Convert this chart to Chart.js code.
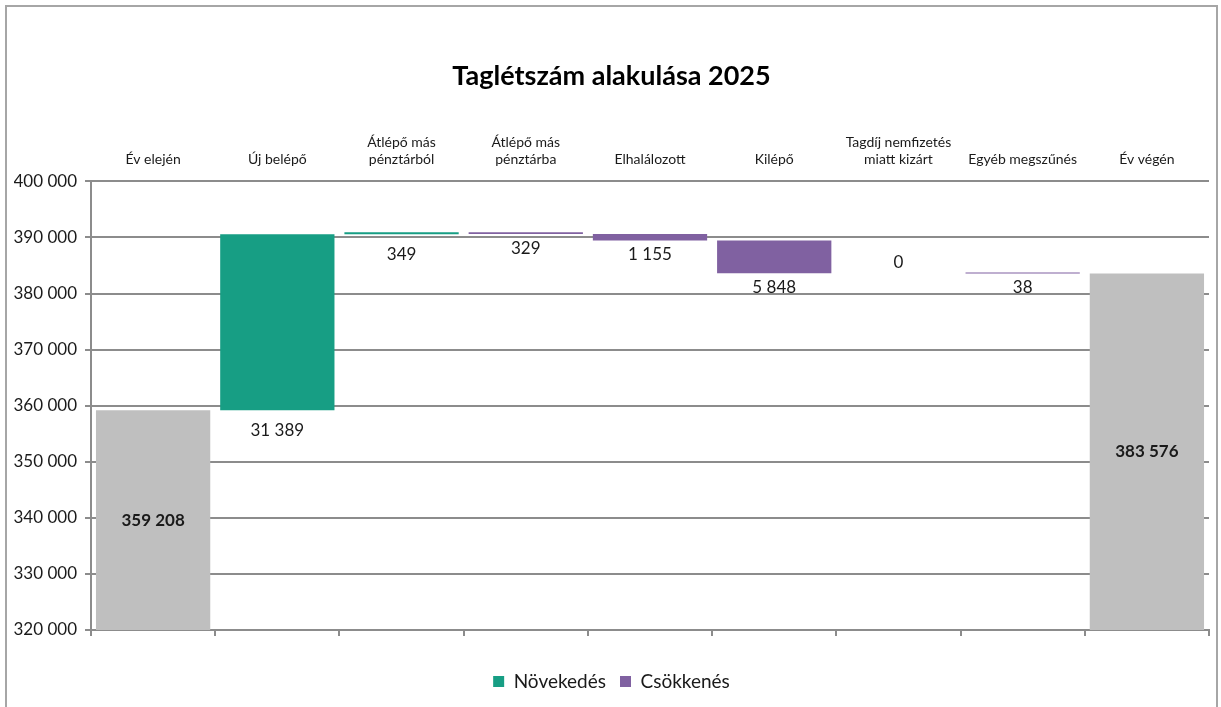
<!DOCTYPE html>
<html lang="hu">
<head>
<meta charset="utf-8">
<title>Taglétszám alakulása 2025</title>
<script src="https://cdn.jsdelivr.net/npm/chart.js@4.4.1/dist/chart.umd.min.js"></script>
<style>
  html, body { margin: 0; padding: 0; background: #fff; }
  #wrap { position: relative; width: 1221px; height: 707px; overflow: hidden; }
  #frame {
    position: absolute; left: 5px; top: 5px; width: 1213px; height: 720px;
    border: 2px solid #a6a6a6; box-sizing: border-box; pointer-events: none;
  }
  canvas { position: absolute; left: 0; top: 0; }
</style>
</head>
<body>
<div id="wrap">
  <canvas id="chart" width="1221" height="707"></canvas>
  <div id="frame"></div>
</div>
<script>
// ── Data ──
const categories = [
  ['Év elején'],
  ['Új belépő'],
  ['Átlépő más', 'pénztárból'],
  ['Átlépő más', 'pénztárba'],
  ['Elhalálozott'],
  ['Kilépő'],
  ['Tagdíj nemfizetés', 'miatt kizárt'],
  ['Egyéb megszűnés'],
  ['Év végén']
];
const startValue = 359208;
const changes = [31389, 349, -329, -1155, -5848, 0, -38]; // steps between start and end
const endValue = 383576;
const yTicks = { min: 320000, max: 400000, step: 10000 };

const COLORS = {
  total:    '#bfbfbf',
  increase: '#179e84',
  decrease: '#8061a1',
  grid:     '#8c8c8c',
  text:     '#1a1a1a'
};
const FONT = 'Lato, "Open Sans", sans-serif';

function fmtNum(n) {
  return String(Math.abs(Math.round(n))).replace(/\B(?=(\d{3})+(?!\d))/g, ' ');
}

// ── Build floating bars ──
const totals = categories.map(() => null);
const increases = categories.map(() => null);
const decreases = categories.map(() => null);
totals[0] = [yTicks.min, startValue];
totals[categories.length - 1] = [yTicks.min, endValue];

let level = startValue;
changes.forEach((d, i) => {
  const next = level + d;
  if (d > 0) increases[i + 1] = [level, next];
  else if (d < 0) decreases[i + 1] = [next, level];
  level = next;
});

// ── Value labels ──
const valueLabels = {
  id: 'valueLabels',
  afterDatasetsDraw(chart) {
    const { ctx, scales: { y } } = chart;
    ctx.save();
    ctx.fillStyle = COLORS.text;
    ctx.textAlign = 'center';

    // totals: bold, centred in the bar
    chart.getDatasetMeta(0).data.forEach((bar, i) => {
      if (!totals[i]) return;
      ctx.font = '700 17px ' + FONT;
      ctx.textBaseline = 'middle';
      ctx.fillText(fmtNum(totals[i][1]), bar.x, (bar.y + bar.base) / 2);
    });

    // changes: under the bar, zero step sits above its level
    let lvl = startValue;
    changes.forEach((d, i) => {
      const next = lvl + d;
      const x = chart.getDatasetMeta(1).data[i + 1].x;
      ctx.font = '400 17px ' + FONT;
      if (d === 0) {
        ctx.textBaseline = 'bottom';
        ctx.fillText(fmtNum(d), x, y.getPixelForValue(lvl) - 2);
      } else {
        const bottom = y.getPixelForValue(Math.min(lvl, next));
        ctx.textBaseline = 'top';
        ctx.fillText(fmtNum(d), x, bottom + (d > 0 ? 12 : 6));
      }
      lvl = next;
    });
    ctx.restore();
  }
};

new Chart(document.getElementById('chart'), {
  type: 'bar',
  data: {
    labels: categories,
    datasets: [
      { label: 'Összesen', data: totals, backgroundColor: COLORS.total },
      { label: 'Növekedés', data: increases, backgroundColor: COLORS.increase, minBarLength: 1 },
      { label: 'Csökkenés', data: decreases, backgroundColor: COLORS.decrease, minBarLength: 1 }
    ]
  },
  options: {
    responsive: false,
    animation: false,
    layout: { padding: { left: 14, right: 12, top: 0, bottom: 6 } },
    datasets: { bar: { categoryPercentage: 1, barPercentage: 0.92, borderWidth: 0 } },
    scales: {
      x: {
        position: 'top',
        stacked: true,
        grid: { display: false },
        border: { display: false },
        ticks: { color: COLORS.text, font: { family: FONT, size: 14 }, padding: 6, maxRotation: 0 },
        afterFit(scale) { scale.height = 60; }
      },
      x2: {
        position: 'bottom',
        type: 'category',
        offset: true,
        grid: { offset: true, drawOnChartArea: false, color: COLORS.grid, lineWidth: 2, tickLength: 6 },
        border: { color: COLORS.grid, width: 2 },
        ticks: { display: false },
        afterFit(scale) { scale.height = 28; }
      },
      y: {
        min: yTicks.min,
        max: yTicks.max,
        ticks: {
          stepSize: yTicks.step,
          color: COLORS.text,
          font: { family: FONT, size: 17 },
          padding: 8,
          callback: v => fmtNum(v)
        },
        grid: { color: COLORS.grid, lineWidth: 2, tickLength: 6 },
        border: { color: COLORS.grid, width: 2 },
        afterFit(scale) { scale.width = 77; }
      }
    },
    plugins: {
      title: {
        display: true,
        text: 'Taglétszám alakulása 2025',
        color: '#000',
        font: { family: FONT, size: 27, weight: '700', lineHeight: 1.2 },
        padding: { top: 60, bottom: 29 }
      },
      legend: {
        position: 'bottom',
        labels: {
          color: COLORS.text,
          font: { family: FONT, size: 19 },
          boxWidth: 11,
          boxHeight: 11,
          padding: 14,
          filter: item => item.datasetIndex !== 0
        }
      },
      tooltip: { enabled: false }
    }
  },
  plugins: [valueLabels]
});
</script>
</body>
</html>
